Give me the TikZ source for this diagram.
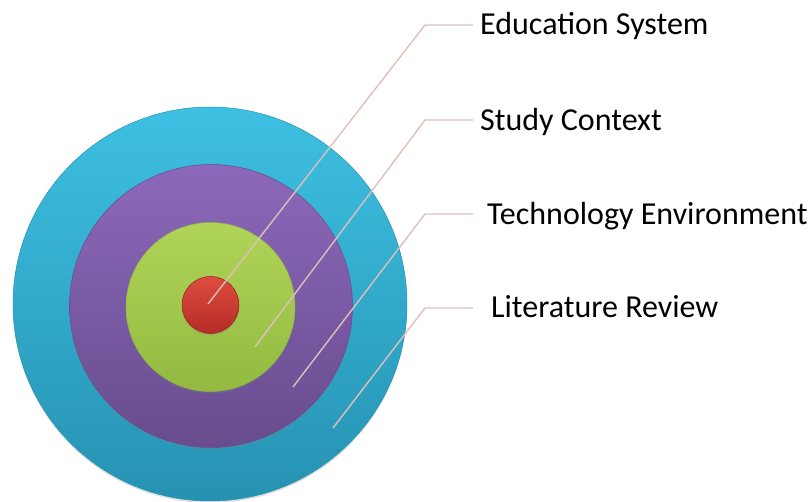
\documentclass[tikz,border=0pt]{standalone}
\usepackage{fontspec}
\setmainfont{Carlito}
\usetikzlibrary{shadows}
\definecolor{blueTop}{RGB}{62,192,226}
\definecolor{blueBot}{RGB}{38,146,178}
\definecolor{purpleTop}{RGB}{140,104,186}
\definecolor{purpleBot}{RGB}{104,76,142}
\definecolor{greenTop}{RGB}{176,212,88}
\definecolor{greenBot}{RGB}{146,186,64}
\definecolor{redTop}{RGB}{222,76,64}
\definecolor{redBot}{RGB}{180,44,38}
\definecolor{leadPink}{RGB}{222,192,186}

\begin{document}
\begin{tikzpicture}[x=1pt, y=-1pt,
            ring_style/.style={circle, inner sep=0pt, line width=0.5pt,
              drop shadow={shadow xshift=0pt, shadow yshift=-2pt, opacity=0.25}},
            edge_style/.style={draw=leadPink, line width=1.4pt},
            label_style/.style={anchor=base west, inner sep=0pt, font=\fontsize{32}{38}\selectfont}]
            \useasboundingbox (0,0) rectangle (809,502);
            % target rings
            \node[ring_style, minimum size=394pt, top color=blueTop, bottom color=blueBot, draw=blueBot] (litRing) at (210,304) {};
            \node[ring_style, minimum size=283pt, top color=purpleTop, bottom color=purpleBot, draw=purpleBot] (techRing) at (211,306) {};
            \node[ring_style, minimum size=169pt, top color=greenTop, bottom color=greenBot, draw=greenBot] (studyRing) at (210.5,307) {};
            \node[ring_style, minimum size=57pt, top color=redTop, bottom color=redBot, draw=redBot!80!black] (eduRing) at (210.5,305) {};
            % leader points
            \coordinate (p1) at (208,304);
            \coordinate (k1) at (425,25);
            \coordinate (e1) at (473,25);
            \coordinate (p2) at (255,347);
            \coordinate (k2) at (425,120);
            \coordinate (e2) at (473,120);
            \coordinate (p3) at (293,387);
            \coordinate (k3) at (425,214);
            \coordinate (e3) at (473,214);
            \coordinate (p4) at (333,428);
            \coordinate (k4) at (425,308);
            \coordinate (e4) at (473,308);
            \draw[edge_style] (p1) -- (k1) -- (e1);
            \draw[edge_style] (p2) -- (k2) -- (e2);
            \draw[edge_style] (p3) -- (k3) -- (e3);
            \draw[edge_style] (p4) -- (k4) -- (e4);
            % labels
            \node[label_style] (eduText) at (480,35) {Education System};
            \node[label_style] (studyText) at (480,131) {Study Context};
            \node[label_style] (techText) at (487,225) {Technology Environment};
            \node[label_style] (litText) at (491,318) {Literature Review};
        \end{tikzpicture}
\end{document}
